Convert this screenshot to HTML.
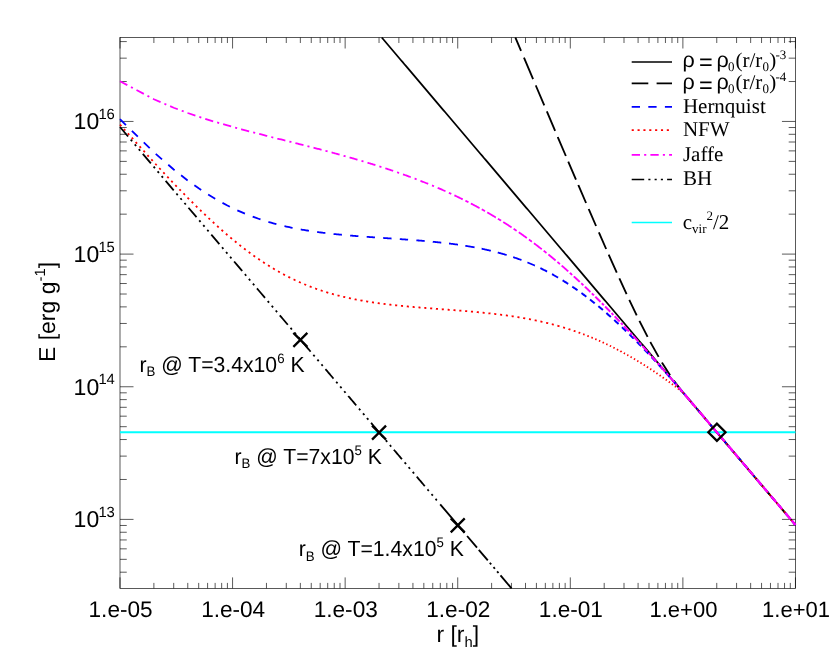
<!DOCTYPE html>
<html><head><meta charset="utf-8"><title>E vs r</title>
<style>html,body{margin:0;padding:0;background:#fff}svg{display:block;will-change:transform;transform:translateZ(0)}text{text-rendering:geometricPrecision}</style></head>
<body>
<svg width="830" height="665" viewBox="0 0 830 665">
<rect width="830" height="665" fill="#fff"/>
<g stroke="#000" stroke-width="0.65" fill="none">
<rect x="120.0" y="37.5" width="675.45" height="550.9"/>
<path d="M120.00,588.4v-11.0M120.00,37.5v11.0M153.89,588.4v-5.5M153.89,37.5v5.5M173.71,588.4v-5.5M173.71,37.5v5.5M187.78,588.4v-5.5M187.78,37.5v5.5M198.69,588.4v-5.5M198.69,37.5v5.5M207.60,588.4v-5.5M207.60,37.5v5.5M215.14,588.4v-5.5M215.14,37.5v5.5M221.67,588.4v-5.5M221.67,37.5v5.5M227.42,588.4v-5.5M227.42,37.5v5.5M232.57,588.4v-11.0M232.57,37.5v11.0M266.46,588.4v-5.5M266.46,37.5v5.5M286.29,588.4v-5.5M286.29,37.5v5.5M300.35,588.4v-5.5M300.35,37.5v5.5M311.26,588.4v-5.5M311.26,37.5v5.5M320.18,588.4v-5.5M320.18,37.5v5.5M327.71,588.4v-5.5M327.71,37.5v5.5M334.24,588.4v-5.5M334.24,37.5v5.5M340.00,588.4v-5.5M340.00,37.5v5.5M345.15,588.4v-11.0M345.15,37.5v11.0M379.04,588.4v-5.5M379.04,37.5v5.5M398.86,588.4v-5.5M398.86,37.5v5.5M412.93,588.4v-5.5M412.93,37.5v5.5M423.84,588.4v-5.5M423.84,37.5v5.5M432.75,588.4v-5.5M432.75,37.5v5.5M440.29,588.4v-5.5M440.29,37.5v5.5M446.82,588.4v-5.5M446.82,37.5v5.5M452.57,588.4v-5.5M452.57,37.5v5.5M457.73,588.4v-11.0M457.73,37.5v11.0M491.61,588.4v-5.5M491.61,37.5v5.5M511.44,588.4v-5.5M511.44,37.5v5.5M525.50,588.4v-5.5M525.50,37.5v5.5M536.41,588.4v-5.5M536.41,37.5v5.5M545.33,588.4v-5.5M545.33,37.5v5.5M552.86,588.4v-5.5M552.86,37.5v5.5M559.39,588.4v-5.5M559.39,37.5v5.5M565.15,588.4v-5.5M565.15,37.5v5.5M570.30,588.4v-11.0M570.30,37.5v11.0M604.19,588.4v-5.5M604.19,37.5v5.5M624.01,588.4v-5.5M624.01,37.5v5.5M638.08,588.4v-5.5M638.08,37.5v5.5M648.99,588.4v-5.5M648.99,37.5v5.5M657.90,588.4v-5.5M657.90,37.5v5.5M665.44,588.4v-5.5M665.44,37.5v5.5M671.97,588.4v-5.5M671.97,37.5v5.5M677.72,588.4v-5.5M677.72,37.5v5.5M682.88,588.4v-11.0M682.88,37.5v11.0M716.76,588.4v-5.5M716.76,37.5v5.5M736.59,588.4v-5.5M736.59,37.5v5.5M750.65,588.4v-5.5M750.65,37.5v5.5M761.56,588.4v-5.5M761.56,37.5v5.5M770.48,588.4v-5.5M770.48,37.5v5.5M778.01,588.4v-5.5M778.01,37.5v5.5M784.54,588.4v-5.5M784.54,37.5v5.5M790.30,588.4v-5.5M790.30,37.5v5.5M795.45,588.4v-11.0M795.45,37.5v11.0M120.0,572.19h6.75M795.45,572.19h-6.75M120.0,559.33h6.75M795.45,559.33h-6.75M120.0,548.83h6.75M795.45,548.83h-6.75M120.0,539.95h6.75M795.45,539.95h-6.75M120.0,532.26h6.75M795.45,532.26h-6.75M120.0,525.47h6.75M795.45,525.47h-6.75M120.0,519.40h13.5M795.45,519.40h-13.5M120.0,479.47h6.75M795.45,479.47h-6.75M120.0,456.11h6.75M795.45,456.11h-6.75M120.0,439.54h6.75M795.45,439.54h-6.75M120.0,426.68h6.75M795.45,426.68h-6.75M120.0,416.18h6.75M795.45,416.18h-6.75M120.0,407.30h6.75M795.45,407.30h-6.75M120.0,399.61h6.75M795.45,399.61h-6.75M120.0,392.82h6.75M795.45,392.82h-6.75M120.0,386.75h13.5M795.45,386.75h-13.5M120.0,346.82h6.75M795.45,346.82h-6.75M120.0,323.46h6.75M795.45,323.46h-6.75M120.0,306.89h6.75M795.45,306.89h-6.75M120.0,294.03h6.75M795.45,294.03h-6.75M120.0,283.53h6.75M795.45,283.53h-6.75M120.0,274.65h6.75M795.45,274.65h-6.75M120.0,266.96h6.75M795.45,266.96h-6.75M120.0,260.17h6.75M795.45,260.17h-6.75M120.0,254.10h13.5M795.45,254.10h-13.5M120.0,214.17h6.75M795.45,214.17h-6.75M120.0,190.81h6.75M795.45,190.81h-6.75M120.0,174.24h6.75M795.45,174.24h-6.75M120.0,161.38h6.75M795.45,161.38h-6.75M120.0,150.88h6.75M795.45,150.88h-6.75M120.0,142.00h6.75M795.45,142.00h-6.75M120.0,134.31h6.75M795.45,134.31h-6.75M120.0,127.52h6.75M795.45,127.52h-6.75M120.0,121.45h13.5M795.45,121.45h-13.5M120.0,81.52h6.75M795.45,81.52h-6.75M120.0,58.16h6.75M795.45,58.16h-6.75M120.0,41.59h6.75M795.45,41.59h-6.75"/>
</g>
<g fill="none" stroke-width="1.75" stroke-linejoin="round">
<path d="M120.0,432.25H795.45" stroke="#00ffff" stroke-width="1.9"/>
<path d="M381.75,37.50L382.39,38.25L384.09,40.25L385.78,42.24L387.47,44.24L389.16,46.23L390.86,48.23L392.55,50.22L394.24,52.22L395.94,54.21L397.63,56.21L399.32,58.20L401.01,60.20L402.71,62.19L404.40,64.19L406.09,66.18L407.79,68.17L409.48,70.17L411.17,72.16L412.86,74.16L414.56,76.15L416.25,78.15L417.94,80.14L419.64,82.14L421.33,84.13L423.02,86.13L424.71,88.12L426.41,90.12L428.10,92.11L429.79,94.11L431.49,96.10L433.18,98.10L434.87,100.09L436.56,102.09L438.26,104.08L439.95,106.07L441.64,108.07L443.34,110.06L445.03,112.06L446.72,114.05L448.41,116.05L450.11,118.04L451.80,120.04L453.49,122.03L455.19,124.03L456.88,126.02L458.57,128.02L460.26,130.01L461.96,132.01L463.65,134.00L465.34,136.00L467.04,137.99L468.73,139.99L470.42,141.98L472.11,143.97L473.81,145.97L475.50,147.96L477.19,149.96L478.89,151.95L480.58,153.95L482.27,155.94L483.96,157.94L485.66,159.93L487.35,161.93L489.04,163.92L490.74,165.92L492.43,167.91L494.12,169.91L495.81,171.90L497.51,173.90L499.20,175.89L500.89,177.89L502.59,179.88L504.28,181.87L505.97,183.87L507.66,185.86L509.36,187.86L511.05,189.85L512.74,191.85L514.44,193.84L516.13,195.84L517.82,197.83L519.51,199.83L521.21,201.82L522.90,203.82L524.59,205.81L526.29,207.81L527.98,209.80L529.67,211.80L531.36,213.79L533.06,215.79L534.75,217.78L536.44,219.77L538.14,221.77L539.83,223.76L541.52,225.76L543.21,227.75L544.91,229.75L546.60,231.74L548.29,233.74L549.99,235.73L551.68,237.73L553.37,239.72L555.06,241.72L556.76,243.71L558.45,245.71L560.14,247.70L561.84,249.70L563.53,251.69L565.22,253.69L566.91,255.68L568.61,257.67L570.30,259.67L571.99,261.66L573.69,263.66L575.38,265.65L577.07,267.65L578.76,269.64L580.46,271.64L582.15,273.63L583.84,275.63L585.54,277.62L587.23,279.62L588.92,281.61L590.61,283.61L592.31,285.60L594.00,287.60L595.69,289.59L597.39,291.59L599.08,293.58L600.77,295.57L602.46,297.57L604.16,299.56L605.85,301.56L607.54,303.55L609.24,305.55L610.93,307.54L612.62,309.54L614.31,311.53L616.01,313.53L617.70,315.52L619.39,317.52L621.09,319.51L622.78,321.51L624.47,323.50L626.16,325.50L627.86,327.49L629.55,329.49L631.24,331.48L632.94,333.47L634.63,335.47L636.32,337.46L638.01,339.46L639.71,341.45L641.40,343.45L643.09,345.44L644.79,347.44L646.48,349.43L648.17,351.43L649.86,353.42L651.56,355.42L653.25,357.41L654.94,359.41L656.64,361.40L658.33,363.40L660.02,365.39L661.71,367.39L663.41,369.38L665.10,371.37L666.79,373.37L668.49,375.36L670.18,377.36L671.87,379.35L673.56,381.35L675.26,383.34L676.95,385.34L678.64,387.33L680.34,389.33L682.03,391.32L683.72,393.32L685.41,395.31L687.11,397.31L688.80,399.30L690.49,401.30L692.19,403.29L693.88,405.29L695.57,407.28L697.26,409.27L698.96,411.27L700.65,413.26L702.34,415.26L704.04,417.25L705.73,419.25L707.42,421.24L709.11,423.24L710.81,425.23L712.50,427.23L714.19,429.22L715.89,431.22L717.58,433.21L719.27,435.21L720.96,437.20L722.66,439.20L724.35,441.19L726.04,443.19L727.74,445.18L729.43,447.17L731.12,449.17L732.81,451.16L734.51,453.16L736.20,455.15L737.89,457.15L739.59,459.14L741.28,461.14L742.97,463.13L744.66,465.13L746.36,467.12L748.05,469.12L749.74,471.11L751.44,473.11L753.13,475.10L754.82,477.10L756.51,479.09L758.21,481.09L759.90,483.08L761.59,485.07L763.29,487.07L764.98,489.06L766.67,491.06L768.36,493.05L770.06,495.05L771.75,497.04L773.44,499.04L775.14,501.03L776.83,503.03L778.52,505.02L780.21,507.02L781.91,509.01L783.60,511.01L785.29,513.00L786.99,515.00L788.68,516.99L790.37,518.99L792.06,520.98L793.76,522.97L795.45,524.97" stroke="#000"/>
<path d="M515.40,37.50L515.63,38.05L521.05,50.80M523.94,57.60L524.19,58.20L533.08,79.10M535.75,85.40L535.90,85.75L544.27,105.40M546.82,111.40L547.17,112.22L555.13,130.90M557.74,137.00L557.98,137.58L565.86,156.00M568.25,161.60L568.35,161.82L575.97,179.60M578.30,185.00L578.71,185.97L586.06,203.00M588.66,209.00L589.08,209.97L596.05,226.00M598.85,232.40L598.99,232.73L606.15,249.00M608.68,254.70L608.90,255.19L616.76,272.70M619.30,278.30L619.72,279.21L626.58,294.10M629.30,299.90L629.63,300.59L636.69,315.30M639.40,320.80L639.54,321.09L647.60,336.90M650.30,342.00L650.36,342.10L658.61,356.90M661.93,362.50L662.07,362.74L670.09,375.30M673.68,380.47L673.79,380.62L681.98,391.25M685.43,395.33L685.50,395.42L693.73,405.11M697.18,409.17L697.22,409.22L705.48,418.95M708.93,423.02L708.93,423.03L717.23,432.80M720.68,436.86L721.10,437.36L728.98,446.64M732.43,450.71L732.82,451.17L740.73,460.49M744.18,464.55L744.53,464.97L752.48,474.33M755.93,478.40L756.25,478.78L764.23,488.18M767.68,492.24L767.96,492.58L775.98,502.02M779.43,506.09L779.68,506.39L787.73,515.87M791.18,519.93L791.39,520.19L795.45,524.97" stroke="#000" stroke-width="1.85"/>
<path d="M120.00,119.22L125.94,125.02M131.88,130.81L137.82,136.61M143.76,142.41L149.70,148.20M155.74,153.89L162.01,159.34M168.27,164.78L173.71,169.51L174.57,170.18M181.10,175.31L187.63,180.43M194.38,185.26L198.69,188.34L201.20,189.99M208.15,194.53L215.14,198.79L215.24,198.84M222.47,202.91L227.42,205.53L229.84,206.73M237.33,210.31L241.49,212.16L244.94,213.61M252.67,216.64L255.55,217.70L258.52,218.73L260.50,219.40M268.42,221.89L268.85,222.02L271.12,222.68L273.30,223.28L275.38,223.85L276.41,224.12M284.47,226.11L284.63,226.14L286.29,226.52L287.89,226.88L289.44,227.21L290.95,227.53L292.41,227.83L292.58,227.86M300.73,229.41L301.56,229.56L302.74,229.77L303.89,229.96L305.01,230.15L306.11,230.33L307.18,230.51L308.24,230.67L308.92,230.78M317.13,231.98L317.67,232.05L318.52,232.17L319.35,232.28L320.18,232.38L320.98,232.49L321.78,232.59L322.56,232.69L323.33,232.79L324.09,232.88L324.84,232.97L325.37,233.03M333.61,233.96L333.63,233.97L334.24,234.03L334.85,234.09L335.45,234.16L336.04,234.22L336.63,234.28L337.20,234.34L337.78,234.39L338.34,234.45L338.90,234.51L339.45,234.56L340.00,234.61L340.54,234.66L341.07,234.72L341.60,234.77L341.87,234.79M350.14,235.53L350.26,235.54L350.86,235.59L351.46,235.64L352.06,235.69L352.66,235.74L353.26,235.79L353.86,235.84L354.46,235.89L355.06,235.94L355.66,235.99L356.26,236.04L356.86,236.08L357.46,236.13L358.06,236.18L358.41,236.21M366.69,236.83L366.77,236.83L367.37,236.88L367.97,236.92L368.57,236.96L369.17,237.01L369.77,237.05L370.38,237.09L370.98,237.14L371.58,237.18L372.18,237.22L372.78,237.26L373.38,237.30L373.98,237.35L374.58,237.39L374.97,237.41M383.25,237.98L383.29,237.98L383.89,238.02L384.49,238.06L385.09,238.10L385.69,238.14L386.29,238.18L386.89,238.22L387.49,238.27L388.09,238.31L388.69,238.35L389.29,238.39L389.89,238.43L390.50,238.47L391.10,238.51L391.53,238.54M399.81,239.10L399.95,239.11L400.56,239.16L401.16,239.20L401.76,239.24L402.36,239.28L402.96,239.33L403.56,239.37L404.16,239.41L404.76,239.45L405.36,239.50L405.96,239.54L406.56,239.58L407.16,239.63L407.76,239.67L408.09,239.70M416.36,240.32L416.47,240.33L417.07,240.38L417.67,240.43L418.27,240.48L418.87,240.52L419.47,240.57L420.07,240.62L420.68,240.67L421.28,240.72L421.88,240.77L422.48,240.82L423.08,240.87L423.68,240.92L424.28,240.98L424.64,241.01M432.81,241.75L432.84,241.76L433.44,241.81L434.04,241.87L434.64,241.93L435.24,241.99L435.84,242.05L436.44,242.11L437.04,242.17L437.64,242.23L438.24,242.29L438.84,242.36L439.44,242.42L440.04,242.48L440.65,242.55L441.25,242.61L441.26,242.61M449.02,243.51L449.05,243.51L449.80,243.60L450.56,243.70L451.31,243.79L452.06,243.89L452.81,243.98L453.56,244.08L454.31,244.18L455.06,244.28L455.81,244.38L456.56,244.48L457.31,244.59L458.01,244.68M465.30,245.77L465.42,245.79L466.17,245.91L466.92,246.03L467.67,246.15L468.42,246.28L469.17,246.40L469.92,246.53L470.68,246.66L471.43,246.79L472.18,246.92L472.93,247.05L473.68,247.19L474.43,247.32L474.57,247.35M481.63,248.72L481.64,248.72L482.39,248.88L483.14,249.04L483.89,249.20L484.64,249.36L485.39,249.52L486.14,249.69L486.89,249.85L487.64,250.02L488.39,250.19L489.14,250.37L489.89,250.54L490.65,250.72L490.81,250.76M497.75,252.50L497.85,252.53L498.45,252.69L499.05,252.86L499.65,253.02L500.26,253.18L500.86,253.35L501.46,253.52L502.06,253.69L502.66,253.86L503.26,254.03L503.86,254.21L504.46,254.38L505.06,254.56L505.66,254.74L506.26,254.92L506.61,255.03M513.18,257.12L513.32,257.17L513.92,257.37L514.52,257.58L515.12,257.78L515.72,257.99L516.32,258.20L516.92,258.41L517.52,258.62L518.12,258.84L518.72,259.06L519.32,259.27L519.92,259.50L520.53,259.72L521.13,259.94L521.42,260.05M527.44,262.41L527.58,262.47L528.18,262.72L528.78,262.97L529.38,263.22L529.98,263.47L530.59,263.73L531.19,263.98L531.79,264.24L532.39,264.50L532.99,264.77L533.59,265.03L534.19,265.30L534.79,265.57L534.91,265.62" stroke="#0000ff" stroke-width="1.8"/>
<path d="M540.35,268.15L540.50,268.23L540.95,268.44L541.40,268.66L541.85,268.88L542.30,269.10L542.75,269.33L543.20,269.55L543.65,269.78L544.10,270.00L544.55,270.23L545.00,270.46L545.45,270.69L545.90,270.92L546.35,271.15L546.80,271.39L547.08,271.53M551.99,274.17L552.06,274.20L552.51,274.45L552.96,274.70L553.41,274.95L553.86,275.21L554.31,275.46L554.76,275.72L555.21,275.97L555.66,276.23L556.11,276.49L556.56,276.75L557.01,277.01L557.46,277.28L557.91,277.54L558.10,277.65" stroke="#0000ff" stroke-width="1.9"/>
<path d="M562.57,280.34L562.72,280.43L563.17,280.71L563.62,280.99L564.07,281.27L564.52,281.56L564.97,281.84L565.42,282.12L565.87,282.41L566.32,282.70L566.77,282.99L567.22,283.28L567.67,283.57L568.12,283.86L568.18,283.90M572.31,286.64L572.33,286.65L572.63,286.85L572.93,287.05L573.23,287.26L573.53,287.46L573.83,287.67L574.13,287.88L574.43,288.08L574.73,288.29L575.03,288.50L575.33,288.70L575.63,288.91L575.93,289.12L576.23,289.33L576.53,289.54L576.83,289.75L577.13,289.97L577.43,290.18L577.54,290.25M581.41,293.04L581.49,293.09L581.79,293.31L582.09,293.53L582.39,293.75L582.69,293.97L582.99,294.20L583.29,294.42L583.59,294.64L583.89,294.87L584.19,295.09L584.49,295.31L584.79,295.54L585.09,295.76L585.39,295.99L585.69,296.22L585.99,296.44L586.29,296.67L586.34,296.71M590.03,299.55L590.04,299.56L590.35,299.80L590.65,300.03L590.95,300.27L591.25,300.51L591.55,300.74L591.85,300.98L592.15,301.22L592.45,301.46L592.75,301.69L593.05,301.93L593.35,302.17L593.65,302.41L593.95,302.65L594.25,302.90L594.55,303.14L594.75,303.30M598.31,306.21L598.45,306.33L598.75,306.58L599.05,306.83L599.35,307.08L599.65,307.33L599.95,307.58L600.25,307.83L600.56,308.08L600.86,308.33L601.16,308.59L601.46,308.84L601.76,309.09L602.06,309.35L602.36,309.60L602.66,309.86L602.88,310.05M606.35,313.03L606.41,313.09L606.71,313.35L607.01,313.61L607.31,313.87L607.61,314.13L607.91,314.40L608.21,314.66L608.51,314.93L608.81,315.19L609.11,315.46L609.41,315.72L609.71,315.99L610.01,316.25L610.31,316.52L610.62,316.79L610.83,316.98M614.22,320.03L614.22,320.03L614.52,320.31L614.82,320.58L615.12,320.86L615.42,321.13L615.72,321.41L616.02,321.68L616.32,321.96L616.62,322.23L616.92,322.51L617.22,322.79L617.52,323.06L617.82,323.34L618.12,323.62L618.42,323.90L618.60,324.06M621.93,327.18L622.03,327.28L622.33,327.56L622.63,327.85L622.93,328.13L623.23,328.42L623.53,328.71L623.83,328.99L624.13,329.28L624.43,329.57L624.73,329.85L625.03,330.14L625.33,330.43L625.63,330.72L625.93,331.01L626.23,331.30M629.50,334.47L629.53,334.51L629.83,334.81L630.13,335.10L630.44,335.40L630.74,335.69L631.04,335.99L631.34,336.28L631.64,336.58L631.94,336.88L632.24,337.18L632.54,337.47L632.84,337.77L633.14,338.07L633.44,338.37L633.73,338.66M636.94,341.89L637.04,341.99L637.34,342.29L637.64,342.60L637.94,342.90L638.24,343.20L638.54,343.51L638.84,343.82L639.14,344.12L639.44,344.43L639.74,344.74L640.04,345.04L640.34,345.35L640.65,345.66L640.95,345.97L641.11,346.13M644.28,349.41L644.40,349.54L644.70,349.85L645.00,350.16L645.30,350.48L645.60,350.79L645.90,351.10L646.20,351.42L646.50,351.73L646.80,352.05L647.10,352.36L647.40,352.68L647.70,352.99L648.00,353.31L648.30,353.63L648.39,353.72M651.51,357.04L651.61,357.13L651.91,357.46L652.21,357.78L652.51,358.10L652.81,358.42L653.11,358.74L653.41,359.06L653.71,359.39L654.01,359.71L654.31,360.03L654.61,360.36L654.91,360.68L655.21,361.01L655.51,361.33L655.57,361.40M658.66,364.75L658.66,364.76L658.96,365.09L659.26,365.42L659.56,365.75L659.86,366.08L660.16,366.41L660.47,366.74L660.77,367.07L661.07,367.40L661.37,367.73L661.67,368.06L661.97,368.39L662.27,368.72L662.57,369.06L662.66,369.16M665.72,372.56L665.72,372.56L666.02,372.90L666.32,373.24L666.62,373.57L666.92,373.91L667.22,374.25L667.52,374.59L667.82,374.92L668.12,375.26L668.42,375.60L668.72,375.94L669.02,376.28L669.32,376.62L669.62,376.96L669.68,377.02M672.69,380.45L672.78,380.54L673.08,380.89L673.38,381.23L673.68,381.57L673.98,381.92L674.28,382.26L674.58,382.61L674.88,382.95L675.18,383.30L675.48,383.65L675.78,383.99L676.08,384.34L676.38,384.68L676.61,384.95M679.59,388.42L679.68,388.52L679.83,388.70L679.98,388.87L680.13,389.05L680.28,389.22L680.44,389.40L680.59,389.57L680.74,389.75L680.89,389.92L681.04,390.10L681.19,390.28L681.34,390.45L681.49,390.63L681.64,390.81L681.79,390.98L681.94,391.16L682.09,391.33L682.24,391.51L682.39,391.69L682.54,391.86L682.69,392.04L682.84,392.22" stroke="#0000ff" stroke-width="2.0"/>
<path d="M682.99,392.39L683.14,392.57L683.29,392.75L683.44,392.93L683.59,393.10L683.74,393.28L683.89,393.46L684.04,393.63L684.19,393.81L684.34,393.99L684.49,394.16L684.64,394.34L684.79,394.52L684.94,394.69L685.09,394.87L685.24,395.05L685.39,395.23L685.54,395.40L685.69,395.58L685.84,395.76L685.99,395.93L686.14,396.11L686.29,396.29L686.40,396.42M689.81,400.44L689.89,400.53L690.04,400.71L690.19,400.89L690.34,401.06L690.50,401.24L690.65,401.42L690.80,401.59L690.95,401.77L691.10,401.95L691.25,402.13L691.40,402.30L691.55,402.48L691.70,402.66L691.85,402.83L692.00,403.01L692.15,403.19L692.30,403.36L692.45,403.54L692.60,403.72L692.75,403.90L692.90,404.07L693.05,404.25L693.20,404.43L693.23,404.46M696.64,408.48L696.65,408.50L696.80,408.67L696.95,408.85L697.10,409.03L697.25,409.20L697.40,409.38L697.55,409.56L697.70,409.73L697.85,409.91L698.00,410.09L698.15,410.26L698.30,410.44L698.45,410.62L698.60,410.80L698.75,410.97L698.90,411.15L699.05,411.33L699.20,411.50L699.35,411.68L699.50,411.86L699.65,412.03L699.80,412.21L699.95,412.39L700.06,412.51M703.47,416.53L703.56,416.63L703.71,416.81L703.86,416.99L704.01,417.16L704.16,417.34L704.31,417.52L704.46,417.70L704.61,417.87L704.76,418.05L704.91,418.23L705.06,418.40L705.21,418.58L705.36,418.76L705.51,418.93L705.66,419.11L705.81,419.29L705.96,419.46L706.11,419.64L706.26,419.82L706.41,420.00L706.56,420.17L706.71,420.35L706.86,420.53L706.88,420.55M710.30,424.57L710.31,424.60L710.47,424.77L710.62,424.95L710.77,425.13L710.92,425.30L711.07,425.48L711.22,425.66L711.37,425.83L711.52,426.01L711.67,426.19L711.82,426.36L711.97,426.54L712.12,426.72L712.27,426.90L712.42,427.07L712.57,427.25L712.72,427.43L712.87,427.60L713.02,427.78L713.17,427.96L713.32,428.13L713.47,428.31L713.62,428.49L713.71,428.60M717.12,432.62L717.22,432.73L717.37,432.91L717.52,433.09L717.67,433.26L717.82,433.44L717.97,433.62L718.12,433.80L718.27,433.97L718.42,434.15L718.57,434.33L718.72,434.50L718.87,434.68L719.02,434.86L719.17,435.03L719.32,435.21L719.47,435.39L719.62,435.56L719.77,435.74L719.92,435.92L720.07,436.10L720.22,436.27L720.37,436.45L720.53,436.63L720.54,436.64M723.95,440.66L723.98,440.70L724.13,440.87L724.28,441.05L724.43,441.23L724.58,441.40L724.73,441.58L724.88,441.76L725.03,441.93L725.18,442.11L725.33,442.29L725.48,442.46L725.63,442.64L725.78,442.82L725.93,443.00L726.08,443.17L726.23,443.35L726.38,443.53L726.53,443.70L726.68,443.88L726.83,444.06L726.98,444.23L727.13,444.41L727.28,444.59L727.36,444.68M730.78,448.71L730.89,448.83L731.04,449.01L731.19,449.19L731.34,449.36L731.49,449.54L731.64,449.72L731.79,449.90L731.94,450.07L732.09,450.25L732.24,450.43L732.39,450.60L732.54,450.78L732.69,450.96L732.84,451.13L732.99,451.31L733.14,451.49L733.29,451.66L733.44,451.84L733.59,452.02L733.74,452.20L733.89,452.37L734.04,452.55L734.19,452.73L734.19,452.73M737.60,456.75L737.64,456.80L737.79,456.97L737.94,457.15L738.09,457.33L738.24,457.50L738.39,457.68L738.54,457.86L738.69,458.03L738.84,458.21L738.99,458.39L739.14,458.57L739.29,458.74L739.44,458.92L739.59,459.10L739.74,459.27L739.89,459.45L740.04,459.63L740.19,459.80L740.34,459.98L740.50,460.16L740.65,460.33L740.80,460.51L740.95,460.69L741.02,460.77M744.43,464.80L744.55,464.93L744.70,465.11L744.85,465.29L745.00,465.47L745.15,465.64L745.30,465.82L745.45,466.00L745.60,466.17L745.75,466.35L745.90,466.53L746.05,466.70L746.20,466.88L746.35,467.06L746.50,467.23L746.65,467.41L746.80,467.59L746.95,467.77L747.10,467.94L747.25,468.12L747.40,468.30L747.55,468.47L747.70,468.65L747.85,468.82M751.26,472.84L751.31,472.90L751.46,473.07L751.61,473.25L751.76,473.43L751.91,473.60L752.06,473.78L752.21,473.96L752.36,474.13L752.51,474.31L752.66,474.49L752.81,474.67L752.96,474.84L753.11,475.02L753.26,475.20L753.41,475.37L753.56,475.55L753.71,475.73L753.86,475.90L754.01,476.08L754.16,476.26L754.31,476.43L754.46,476.61L754.61,476.79L754.67,476.86M758.09,480.89L758.21,481.03L758.36,481.21L758.51,481.39L758.66,481.57L758.81,481.74L758.96,481.92L759.11,482.10L759.26,482.27L759.41,482.45L759.56,482.63L759.71,482.80L759.86,482.98L760.01,483.16L760.16,483.33L760.31,483.51L760.47,483.69L760.62,483.87L760.77,484.04L760.92,484.22L761.07,484.40L761.22,484.57L761.37,484.75L761.50,484.91M764.91,488.93L764.97,489.00L765.12,489.17L765.27,489.35L765.42,489.53L765.57,489.70L765.72,489.88L765.87,490.06L766.02,490.23L766.17,490.41L766.32,490.59L766.47,490.77L766.62,490.94L766.77,491.12L766.92,491.30L767.07,491.47L767.22,491.65L767.37,491.83L767.52,492.00L767.67,492.18L767.82,492.36L767.97,492.53L768.12,492.71L768.27,492.89L768.33,492.95M771.74,496.97L771.88,497.13L772.03,497.31L772.18,497.49L772.33,497.67L772.48,497.84L772.63,498.02L772.78,498.20L772.93,498.37L773.08,498.55L773.23,498.73L773.38,498.90L773.53,499.08L773.68,499.26L773.83,499.43L773.98,499.61L774.13,499.79L774.28,499.97L774.43,500.14L774.58,500.32L774.73,500.50L774.88,500.67L775.03,500.85L775.15,501.00M778.57,505.02L778.63,505.10L778.78,505.27L778.93,505.45L779.08,505.63L779.23,505.80L779.38,505.98L779.53,506.16L779.68,506.33L779.83,506.51L779.98,506.69L780.13,506.87L780.28,507.04L780.43,507.22L780.59,507.40L780.74,507.57L780.89,507.75L781.04,507.93L781.19,508.10L781.34,508.28L781.49,508.46L781.64,508.63L781.79,508.81L781.94,508.99L781.98,509.04M785.39,513.06L785.54,513.24L785.69,513.41L785.84,513.59L785.99,513.77L786.14,513.94L786.29,514.12L786.44,514.30L786.59,514.47L786.74,514.65L786.89,514.83L787.04,515.00L787.19,515.18L787.34,515.36L787.49,515.54L787.64,515.71L787.79,515.89L787.94,516.07L788.09,516.24L788.24,516.42L788.39,516.60L788.54,516.77L788.69,516.95L788.81,517.09M792.22,521.11L792.30,521.20L792.45,521.37L792.60,521.55L792.75,521.73L792.90,521.90L793.05,522.08L793.20,522.26L793.35,522.44L793.50,522.61L793.65,522.79L793.80,522.97L793.95,523.14L794.10,523.32L794.25,523.50L794.40,523.67L794.55,523.85L794.70,524.03L794.85,524.20L795.00,524.38L795.15,524.56L795.30,524.74L795.45,524.91" stroke="#0000ff" stroke-width="2.0"/>
<path d="M120.00,124.63L121.39,126.17M123.92,128.98L125.30,130.52M127.83,133.33L129.22,134.87M131.75,137.68L133.13,139.22M135.66,142.03L137.05,143.57M139.58,146.38L140.96,147.92M143.49,150.72L144.88,152.27M147.41,155.07L148.80,156.61M151.32,159.42L152.71,160.96M155.27,163.74L156.69,165.26M159.27,168.01L160.69,169.53M163.27,172.28L164.69,173.80M167.27,176.55L168.69,178.07M171.27,180.82L172.69,182.34M175.30,185.06L176.75,186.55M179.39,189.26L180.83,190.74M183.47,193.45L184.91,194.94M187.55,197.64L187.78,197.88L189.02,199.11M191.70,201.76L193.17,203.22M195.86,205.88L197.33,207.34M200.04,209.98L201.54,211.41M204.27,214.02L205.77,215.46M208.51,218.05L210.03,219.46M212.80,222.02L214.33,223.43M217.13,225.96L218.68,227.35M221.49,229.87L221.67,230.02L223.06,231.23M225.91,233.70L227.42,235.02L227.48,235.06M230.37,237.49L231.96,238.83M234.87,241.23L236.48,242.54M239.43,244.90L241.06,246.19M244.04,248.50L245.40,249.55L245.69,249.76M248.71,252.03L249.03,252.27L250.38,253.26M253.44,255.47L255.13,256.68M258.23,258.84L258.52,259.04L259.94,260.00M263.08,262.10L263.96,262.68L264.82,263.24M268.00,265.27L268.85,265.81L269.76,266.37M272.98,268.34L273.30,268.53L274.77,269.40M278.03,271.29L279.29,272.01L279.84,272.31M283.15,274.13L284.63,274.92L284.98,275.11M288.33,276.85L289.44,277.41L290.19,277.78M293.58,279.44L293.82,279.55L295.20,280.20L295.46,280.32M298.89,281.89L299.11,281.99L300.35,282.54L300.79,282.73M304.26,284.22L305.01,284.53L306.11,284.98L306.18,285.01M309.69,286.41L310.27,286.63L311.26,287.01L311.63,287.15M315.17,288.46L315.92,288.73L316.80,289.04L317.12,289.16M320.70,290.38L320.98,290.47L321.78,290.74L322.56,290.99L322.67,291.03M326.27,292.16L326.29,292.17L327.01,292.39L327.71,292.60L328.25,292.77M331.88,293.82L332.37,293.96L333.00,294.14L333.63,294.31L333.88,294.38M337.53,295.35L337.78,295.42L338.34,295.56L338.90,295.70L339.45,295.84L339.54,295.87M343.21,296.76L343.66,296.87L344.16,296.99L344.66,297.10L345.15,297.22L345.23,297.24M348.91,298.06L349.05,298.09L349.20,298.12L349.35,298.16L349.50,298.19L349.65,298.22L349.80,298.25L349.95,298.29L350.10,298.32L350.26,298.35L350.41,298.38L350.56,298.41L350.71,298.45L350.86,298.48L350.94,298.50M354.64,299.25L354.76,299.28L354.91,299.31L355.06,299.33L355.21,299.36L355.36,299.39L355.51,299.42L355.66,299.45L355.81,299.48L355.96,299.51L356.11,299.54L356.26,299.57L356.41,299.60L356.56,299.63L356.68,299.65M360.39,300.34L360.47,300.36L360.62,300.38L360.77,300.41L360.92,300.44L361.07,300.47L361.22,300.49L361.37,300.52L361.52,300.55L361.67,300.57L361.82,300.60L361.97,300.63L362.12,300.65L362.27,300.68L362.42,300.70L362.43,300.71M366.15,301.34L366.17,301.34L366.32,301.37L366.47,301.39L366.62,301.42L366.77,301.44L366.92,301.47L367.07,301.49L367.22,301.52L367.37,301.54L367.52,301.57L367.67,301.59L367.82,301.61L367.97,301.64L368.12,301.66L368.20,301.68M371.93,302.26L372.03,302.27L372.18,302.29L372.33,302.32L372.48,302.34L372.63,302.36L372.78,302.38L372.93,302.41L373.08,302.43L373.23,302.45L373.38,302.47L373.53,302.49L373.68,302.52L373.83,302.54L373.98,302.56L373.99,302.56M377.73,303.09L377.73,303.09L377.88,303.12L378.03,303.14L378.18,303.16L378.33,303.18L378.48,303.20L378.63,303.22L378.78,303.24L378.93,303.26L379.08,303.28L379.23,303.30L379.38,303.32L379.53,303.34L379.68,303.36L379.78,303.37M383.53,303.86L383.59,303.87L383.74,303.89L383.89,303.91L384.04,303.93L384.19,303.95L384.34,303.96L384.49,303.98L384.64,304.00L384.79,304.02L384.94,304.04L385.09,304.06L385.24,304.08L385.39,304.09L385.54,304.11L385.59,304.12M389.33,304.57L389.44,304.58L389.59,304.60L389.74,304.61L389.89,304.63L390.04,304.65L390.20,304.67L390.35,304.68L390.50,304.70L390.65,304.72L390.80,304.74L390.95,304.75L391.10,304.77L391.25,304.79L391.40,304.80L391.40,304.80M395.15,305.22L395.30,305.23L395.45,305.25L395.60,305.27L395.75,305.28L395.90,305.30L396.05,305.31L396.20,305.33L396.35,305.35L396.50,305.36L396.65,305.38L396.80,305.39L396.95,305.41L397.10,305.43L397.21,305.44M400.97,305.82L401.01,305.82L401.16,305.84L401.31,305.85L401.46,305.87L401.61,305.88L401.76,305.90L401.91,305.91L402.06,305.93L402.21,305.94L402.36,305.96L402.51,305.97L402.66,305.99L402.81,306.00L402.96,306.02L403.04,306.02M406.79,306.38L406.86,306.39L407.01,306.40L407.16,306.42L407.31,306.43L407.46,306.45L407.61,306.46L407.76,306.47L407.91,306.49L408.06,306.50L408.21,306.51L408.36,306.53L408.51,306.54L408.66,306.56L408.81,306.57L408.86,306.57M412.62,306.91L412.72,306.92L412.87,306.93L413.02,306.95L413.17,306.96L413.32,306.97L413.47,306.98L413.62,307.00L413.77,307.01L413.92,307.02L414.07,307.04L414.22,307.05L414.37,307.06L414.52,307.08L414.67,307.09L414.69,307.09M418.45,307.41L418.57,307.42L418.72,307.43L418.87,307.44L419.02,307.46L419.17,307.47L419.32,307.48L419.47,307.49L419.62,307.51L419.77,307.52L419.92,307.53L420.07,307.54L420.23,307.56L420.38,307.57L420.52,307.58M424.28,307.89L424.43,307.90L424.58,307.91L424.73,307.92L424.88,307.93L425.03,307.95L425.18,307.96L425.33,307.97L425.48,307.98L425.63,307.99L425.78,308.00L425.93,308.02L426.08,308.03L426.23,308.04L426.35,308.05M430.12,308.35L430.13,308.35L430.29,308.36L430.44,308.37L430.59,308.38L430.74,308.39L430.89,308.41L431.04,308.42L431.19,308.43L431.34,308.44L431.49,308.45L431.64,308.46L431.79,308.47L431.94,308.49L432.09,308.50L432.19,308.51M435.95,308.79L435.99,308.80L436.14,308.81L436.29,308.82L436.44,308.83L436.59,308.84L436.74,308.85L436.89,308.87L437.04,308.88L437.19,308.89L437.34,308.90L437.49,308.91L437.64,308.92L437.79,308.93L437.94,308.95L438.02,308.95M441.79,309.24L441.85,309.24L442.00,309.25L442.15,309.27L442.30,309.28L442.45,309.29L442.60,309.30L442.75,309.31L442.90,309.32L443.05,309.33L443.20,309.35L443.35,309.36L443.50,309.37L443.65,309.38L443.80,309.39L443.86,309.40M447.62,309.68L447.70,309.69L447.85,309.70L448.00,309.71L448.15,309.72L448.30,309.73L448.45,309.75L448.60,309.76L448.75,309.77L448.90,309.78L449.05,309.79L449.20,309.80L449.35,309.82L449.50,309.83L449.65,309.84L449.69,309.84M453.46,310.13L453.56,310.14L453.71,310.15L453.86,310.16L454.01,310.18L454.16,310.19L454.31,310.20L454.46,310.21L454.61,310.22L454.76,310.23L454.91,310.25L455.06,310.26L455.21,310.27L455.36,310.28L455.51,310.29L455.52,310.29M459.29,310.59L459.41,310.60L459.56,310.62L459.71,310.63L459.86,310.64L460.01,310.65L460.16,310.66L460.32,310.68L460.47,310.69L460.62,310.70L460.77,310.71L460.92,310.72L461.07,310.74L461.22,310.75L461.36,310.76M465.12,311.07L465.27,311.08L465.42,311.10L465.57,311.11L465.72,311.12L465.87,311.13L466.02,311.15L466.17,311.16L466.32,311.17L466.47,311.19L466.62,311.20L466.77,311.21L466.92,311.22L467.07,311.24L467.19,311.25M470.95,311.57L470.98,311.57L471.13,311.59L471.28,311.60L471.43,311.61L471.58,311.63L471.73,311.64L471.88,311.65L472.03,311.67L472.18,311.68L472.33,311.69L472.48,311.71L472.63,311.72L472.78,311.73L472.93,311.75L473.02,311.76M476.78,312.10L476.83,312.11L476.98,312.12L477.13,312.13L477.28,312.15L477.43,312.16L477.58,312.18L477.73,312.19L477.88,312.20L478.03,312.22L478.18,312.23L478.33,312.25L478.48,312.26L478.63,312.28L478.78,312.29L478.84,312.30M482.60,312.66L482.69,312.67L482.84,312.69L482.99,312.70L483.14,312.72L483.29,312.73L483.44,312.75L483.59,312.76L483.74,312.78L483.89,312.79L484.04,312.81L484.19,312.82L484.34,312.84L484.49,312.85L484.64,312.87L484.67,312.87M488.42,313.26L488.54,313.28L488.69,313.29L488.84,313.31L488.99,313.33L489.14,313.34L489.29,313.36L489.44,313.37L489.59,313.39L489.74,313.41L489.89,313.42L490.04,313.44L490.19,313.46L490.35,313.47L490.49,313.49M494.24,313.91L494.25,313.91L494.40,313.93L494.55,313.95L494.70,313.96L494.85,313.98L495.00,314.00L495.15,314.02L495.30,314.03L495.45,314.05L495.60,314.07L495.75,314.09L495.90,314.11L496.05,314.12L496.20,314.14L496.30,314.15M500.05,314.61L500.10,314.62L500.26,314.64L500.41,314.65L500.56,314.67L500.71,314.69L500.86,314.71L501.01,314.73L501.16,314.75L501.31,314.77L501.46,314.79L501.61,314.81L501.76,314.83L501.91,314.85L502.06,314.87L502.11,314.87M505.85,315.37L505.96,315.38L506.11,315.40L506.26,315.42L506.41,315.44L506.56,315.46L506.71,315.48L506.86,315.50L507.01,315.53L507.16,315.55L507.31,315.57L507.46,315.59L507.61,315.61L507.76,315.63L507.91,315.65M511.64,316.19L511.67,316.19L511.82,316.21L511.97,316.23L512.12,316.26L512.27,316.28L512.42,316.30L512.57,316.32L512.72,316.35L512.87,316.37L513.02,316.39L513.17,316.41L513.32,316.44L513.47,316.46L513.62,316.48L513.70,316.49M517.43,317.08L517.52,317.09L517.67,317.12L517.82,317.14L517.97,317.16L518.12,317.19L518.27,317.21L518.42,317.24L518.57,317.26L518.72,317.29L518.87,317.31L519.02,317.34L519.17,317.36L519.32,317.38L519.47,317.41L519.48,317.41M523.20,318.04L523.23,318.05L523.38,318.07L523.53,318.10L523.68,318.13L523.83,318.15L523.98,318.18L524.13,318.20L524.28,318.23L524.43,318.26L524.58,318.28L524.73,318.31L524.88,318.34L525.03,318.36L525.18,318.39L525.24,318.40M528.96,319.09L529.08,319.11L529.23,319.14L529.38,319.17L529.53,319.20L529.68,319.23L529.83,319.26L529.98,319.28L530.13,319.31L530.29,319.34L530.44,319.37L530.59,319.40L530.74,319.43L530.89,319.46L530.99,319.48M534.70,320.22L534.79,320.24L534.94,320.27L535.09,320.30L535.24,320.33L535.39,320.36L535.54,320.40L535.69,320.43L535.84,320.46L535.99,320.49L536.14,320.52L536.29,320.55L536.44,320.58L536.59,320.62L536.73,320.64M540.42,321.45L540.50,321.46L540.65,321.50L540.80,321.53L540.95,321.56L541.10,321.60L541.25,321.63L541.40,321.66L541.55,321.70L541.70,321.73L541.85,321.77L542.00,321.80L542.15,321.83L542.30,321.87L542.44,321.90M546.12,322.77L546.20,322.79L546.35,322.82L546.50,322.86L546.65,322.89L546.80,322.93L546.95,322.97L547.10,323.00L547.25,323.04L547.40,323.08L547.55,323.11L547.70,323.15L547.85,323.19L548.00,323.22L548.14,323.26M551.80,324.19L551.91,324.21L552.06,324.25L552.21,324.29L552.36,324.33L552.51,324.37L552.66,324.41L552.81,324.45L552.96,324.49L553.11,324.53L553.26,324.57L553.41,324.61L553.56,324.65L553.71,324.69L553.80,324.71M557.45,325.71L557.46,325.71L557.61,325.76L557.76,325.80L557.91,325.84L558.06,325.88L558.21,325.92L558.36,325.97L558.51,326.01L558.66,326.05L558.81,326.10L558.96,326.14L559.11,326.18L559.26,326.22L559.41,326.27L559.44,326.27M563.06,327.34L563.17,327.37L563.32,327.41L563.47,327.46L563.62,327.50L563.77,327.55L563.92,327.60L564.07,327.64L564.22,327.69L564.37,327.73L564.52,327.78L564.67,327.82L564.82,327.87L564.97,327.92L565.03,327.93M568.53,329.03L568.57,329.05L568.72,329.10L568.87,329.14L569.02,329.19L569.17,329.24L569.32,329.29L569.47,329.34L569.62,329.39L569.77,329.44L569.92,329.49L570.07,329.53L570.22,329.58L570.38,329.63L570.41,329.64M573.72,330.75L573.83,330.79L573.98,330.84L574.13,330.89L574.28,330.94L574.43,330.99L574.58,331.05L574.73,331.10L574.88,331.15L575.03,331.20L575.18,331.25L575.33,331.31L575.48,331.36M578.57,332.45L578.63,332.48L578.78,332.53L578.93,332.58L579.08,332.64L579.23,332.69L579.38,332.75L579.53,332.80L579.68,332.86L579.83,332.91L579.98,332.97L580.13,333.02L580.21,333.05M583.10,334.13L583.14,334.14L583.29,334.20L583.44,334.25L583.59,334.31L583.74,334.37L583.89,334.43L584.04,334.48L584.19,334.54L584.34,334.60L584.49,334.66L584.64,334.71M587.35,335.77L587.49,335.83L587.64,335.89L587.79,335.95L587.94,336.01L588.09,336.07L588.24,336.13L588.39,336.19L588.54,336.25L588.69,336.31L588.80,336.35M591.37,337.40L591.40,337.41L591.55,337.47L591.70,337.53L591.85,337.60L592.00,337.66L592.15,337.72L592.30,337.78L592.45,337.85L592.60,337.91L592.75,337.97L592.76,337.97M595.22,339.02L595.30,339.05L595.45,339.12L595.60,339.18L595.75,339.25L595.90,339.31L596.05,339.38L596.20,339.44L596.35,339.51L596.50,339.57L596.56,339.60M598.96,340.65L599.05,340.69L599.20,340.76L599.35,340.83L599.50,340.90L599.65,340.96L599.80,341.03L599.95,341.10L600.10,341.16L600.25,341.23L600.27,341.24M602.63,342.31L602.66,342.33L602.81,342.39L602.96,342.46L603.11,342.53L603.26,342.60L603.41,342.67L603.56,342.74L603.71,342.81L603.86,342.88L603.92,342.91M606.26,344.01L606.26,344.01L606.41,344.08L606.56,344.15L606.71,344.23L606.86,344.30L607.01,344.37L607.16,344.44L607.31,344.51L607.46,344.59L607.53,344.62M609.84,345.74L609.86,345.75L610.01,345.83L610.16,345.90L610.31,345.97L610.47,346.05L610.62,346.12L610.77,346.20L610.92,346.27L611.07,346.34L611.10,346.36M613.39,347.51L613.47,347.55L613.62,347.62L613.77,347.70L613.92,347.77L614.07,347.85L614.22,347.93L614.37,348.00L614.52,348.08L614.64,348.14M616.90,349.30L616.92,349.32L617.07,349.40L617.22,349.47L617.37,349.55L617.52,349.63L617.67,349.71L617.82,349.79L617.97,349.87L618.12,349.95L618.13,349.95M620.37,351.13L620.38,351.14L620.53,351.22L620.68,351.30L620.83,351.38L620.98,351.46L621.13,351.54L621.28,351.62L621.43,351.70L621.58,351.78L621.59,351.79M623.80,352.99L623.83,353.01L623.98,353.09L624.13,353.17L624.28,353.26L624.43,353.34L624.58,353.42L624.73,353.51L624.88,353.59L625.01,353.66M627.20,354.89L627.28,354.93L627.43,355.01L627.58,355.10L627.73,355.18L627.88,355.27L628.03,355.35L628.18,355.44L628.33,355.52L628.40,355.56M630.57,356.80L630.59,356.81L630.74,356.90L630.89,356.99L631.04,357.07L631.19,357.16L631.34,357.25L631.49,357.33L631.64,357.42L631.76,357.49M633.91,358.75L634.04,358.83L634.19,358.92L634.34,359.00L634.49,359.09L634.64,359.18L634.79,359.27L634.94,359.36L635.08,359.45M637.22,360.72L637.34,360.80L637.49,360.89L637.64,360.98L637.79,361.07L637.94,361.16L638.09,361.25L638.24,361.35L638.38,361.43M640.49,362.72L640.50,362.72L640.65,362.82L640.80,362.91L640.95,363.00L641.10,363.09L641.25,363.19L641.40,363.28L641.55,363.37L641.65,363.44M643.74,364.75L643.80,364.78L643.95,364.88L644.10,364.97L644.25,365.06L644.40,365.16L644.55,365.25L644.70,365.35L644.85,365.44L644.89,365.47" stroke="#ff0000" stroke-width="1.8"/>
<path d="M646.97,366.79L647.10,366.88L647.25,366.98L647.40,367.07L647.55,367.17L647.70,367.27L647.85,367.36L648.00,367.46L648.10,367.53M650.16,368.87L650.25,368.93L650.41,369.02L650.56,369.12L650.71,369.22L650.86,369.32L651.01,369.42L651.16,369.52L651.29,369.61M653.33,370.96L653.41,371.01L653.56,371.11L653.71,371.21L653.86,371.31L654.01,371.41L654.16,371.51L654.31,371.61L654.45,371.71M656.48,373.07L656.56,373.13L656.71,373.23L656.86,373.33L657.01,373.44L657.16,373.54L657.31,373.64L657.46,373.74L657.59,373.83M659.60,375.21L659.71,375.29L659.86,375.39L660.01,375.50L660.16,375.60L660.31,375.70L660.47,375.81L660.62,375.91L660.71,375.98M662.71,377.37L662.72,377.38L662.87,377.48L663.02,377.59L663.17,377.69L663.32,377.80L663.47,377.91L663.62,378.01L663.77,378.12L663.80,378.14M665.79,379.55L665.87,379.61L666.02,379.72L666.17,379.82L666.32,379.93L666.47,380.04L666.62,380.15L666.77,380.25L666.87,380.32M668.84,381.75L668.87,381.77L669.02,381.88L669.17,381.99L669.32,382.09L669.47,382.20L669.62,382.31L669.77,382.42L669.92,382.53M671.88,383.96L672.03,384.07L672.18,384.18L672.33,384.29L672.48,384.40L672.63,384.51L672.78,384.62L672.93,384.73L672.95,384.75M674.90,386.20L675.03,386.29L675.18,386.41L675.33,386.52L675.48,386.63L675.63,386.74L675.78,386.86L675.93,386.97L675.96,386.99M677.90,388.45L678.03,388.55L678.18,388.67L678.33,388.78L678.48,388.89L678.63,389.01L678.78,389.12L678.93,389.24L678.96,389.25M680.88,390.72L680.89,390.73L681.04,390.84L681.19,390.96L681.34,391.07L681.49,391.19L681.64,391.31L681.79,391.42L681.93,391.53" stroke="#ff0000" stroke-width="1.9"/>
<path d="M682.99,392.39L683.14,392.57L683.29,392.75L683.44,392.93L683.59,393.10L683.74,393.28L683.84,393.40M685.39,395.23L685.54,395.40L685.69,395.58L685.84,395.76L685.99,395.93L686.14,396.11L686.25,396.24M687.80,398.07L687.94,398.23L688.09,398.41L688.24,398.59L688.39,398.76L688.54,398.94L688.65,399.07M690.21,400.90L690.34,401.06L690.50,401.24L690.65,401.42L690.80,401.59L690.95,401.77L691.06,401.91M692.61,403.74L692.75,403.90L692.90,404.07L693.05,404.25L693.20,404.43L693.35,404.60L693.47,404.74M695.02,406.57L695.15,406.73L695.30,406.90L695.45,407.08L695.60,407.26L695.75,407.43L695.87,407.58M697.43,409.41L697.55,409.56L697.70,409.73L697.85,409.91L698.00,410.09L698.15,410.26L698.28,410.41M699.83,412.24L699.95,412.39L700.10,412.56L700.25,412.74L700.41,412.92L700.56,413.10L700.69,413.25M702.24,415.08L702.36,415.22L702.51,415.40L702.66,415.57L702.81,415.75L702.96,415.93L703.09,416.09M704.65,417.92L704.76,418.05L704.91,418.23L705.06,418.40L705.21,418.58L705.36,418.76L705.50,418.92M707.05,420.75L707.16,420.88L707.31,421.06L707.46,421.23L707.61,421.41L707.76,421.59L707.91,421.76M709.46,423.59L709.56,423.71L709.71,423.89L709.86,424.06L710.01,424.24L710.16,424.42L710.31,424.59M711.87,426.42L711.97,426.54L712.12,426.72L712.27,426.90L712.42,427.07L712.57,427.25L712.72,427.43L712.72,427.43M714.27,429.26L714.37,429.37L714.52,429.55L714.67,429.73L714.82,429.90L714.97,430.08L715.12,430.26L715.13,430.26M716.68,432.09L716.77,432.20L716.92,432.38L717.07,432.56L717.22,432.73L717.37,432.91L717.52,433.09L717.53,433.10M719.09,434.93L719.17,435.03L719.32,435.21L719.47,435.39L719.62,435.56L719.77,435.74L719.92,435.92L719.94,435.94M721.49,437.77L721.58,437.86L721.73,438.04L721.88,438.22L722.03,438.40L722.18,438.57L722.33,438.75L722.35,438.77M723.90,440.60L723.98,440.70L724.13,440.87L724.28,441.05L724.43,441.23L724.58,441.40L724.73,441.58L724.75,441.61M726.31,443.44L726.38,443.53L726.53,443.70L726.68,443.88L726.83,444.06L726.98,444.23L727.13,444.41L727.16,444.44M728.71,446.27L728.78,446.36L728.93,446.53L729.08,446.71L729.23,446.89L729.38,447.06L729.53,447.24L729.57,447.28M731.12,449.11L731.19,449.19L731.34,449.36L731.49,449.54L731.64,449.72L731.79,449.90L731.94,450.07L731.97,450.11M733.53,451.94L733.59,452.02L733.74,452.20L733.89,452.37L734.04,452.55L734.19,452.73L734.34,452.90L734.38,452.95M735.93,454.78L735.99,454.85L736.14,455.03L736.29,455.20L736.44,455.38L736.59,455.56L736.74,455.73L736.79,455.79M738.34,457.62L738.39,457.68L738.54,457.86L738.69,458.03L738.84,458.21L738.99,458.39L739.14,458.57L739.19,458.62M740.75,460.45L740.80,460.51L740.95,460.69L741.10,460.87L741.25,461.04L741.40,461.22L741.55,461.40L741.60,461.46M743.15,463.29L743.20,463.34L743.35,463.52L743.50,463.70L743.65,463.87L743.80,464.05L743.95,464.23L744.01,464.29M745.56,466.12L745.60,466.17L745.75,466.35L745.90,466.53L746.05,466.70L746.20,466.88L746.35,467.06L746.41,467.13M747.96,468.96L748.00,469.00L748.15,469.18L748.30,469.36L748.45,469.53L748.60,469.71L748.75,469.89L748.82,469.96M750.37,471.80L750.40,471.83L750.56,472.01L750.71,472.19L750.86,472.37L751.01,472.54L751.16,472.72L751.22,472.80M752.78,474.63L752.81,474.67L752.96,474.84L753.11,475.02L753.26,475.20L753.41,475.37L753.56,475.55L753.63,475.64M755.18,477.47L755.21,477.50L755.36,477.67L755.51,477.85L755.66,478.03L755.81,478.20L755.96,478.38L756.04,478.47M757.59,480.30L757.61,480.33L757.76,480.50L757.91,480.68L758.06,480.86L758.21,481.03L758.36,481.21L758.44,481.31M760.00,483.14L760.01,483.16L760.16,483.33L760.31,483.51L760.47,483.69L760.62,483.87L760.77,484.04L760.85,484.14M762.40,485.97L762.42,485.99L762.57,486.17L762.72,486.34L762.87,486.52L763.02,486.70L763.17,486.87L763.26,486.98M764.81,488.81L764.82,488.82L764.97,489.00L765.12,489.17L765.27,489.35L765.42,489.53L765.57,489.70L765.66,489.81M767.22,491.65L767.22,491.65L767.37,491.83L767.52,492.00L767.67,492.18L767.82,492.36L767.97,492.53L768.07,492.65M769.62,494.48L769.62,494.48L769.77,494.66L769.92,494.83L770.07,495.01L770.22,495.19L770.37,495.37L770.48,495.49M772.03,497.32L772.18,497.49L772.33,497.67L772.48,497.84L772.63,498.02L772.78,498.20L772.88,498.32M774.44,500.15L774.58,500.32L774.73,500.50L774.88,500.67L775.03,500.85L775.18,501.03L775.29,501.16M776.84,502.99L776.98,503.15L777.13,503.33L777.28,503.50L777.43,503.68L777.58,503.86L777.70,503.99M779.25,505.82L779.38,505.98L779.53,506.16L779.68,506.33L779.83,506.51L779.98,506.69L780.10,506.83M781.66,508.66L781.79,508.81L781.94,508.99L782.09,509.17L782.24,509.34L782.39,509.52L782.51,509.66M784.06,511.50L784.19,511.64L784.34,511.82L784.49,512.00L784.64,512.17L784.79,512.35L784.92,512.50M786.47,514.33L786.59,514.47L786.74,514.65L786.89,514.83L787.04,515.00L787.19,515.18L787.32,515.34M788.88,517.17L788.99,517.30L789.14,517.48L789.29,517.66L789.44,517.84L789.59,518.01L789.73,518.17M791.28,520.00L791.40,520.14L791.55,520.31L791.70,520.49L791.85,520.67L792.00,520.84L792.14,521.01M793.69,522.84L793.80,522.97L793.95,523.14L794.10,523.32L794.25,523.50L794.40,523.67L794.54,523.84" stroke="#ff0000" stroke-width="1.9"/>
<path d="M120.00,81.26L127.33,85.15M131.00,87.10L132.83,88.07M136.49,90.02L143.83,93.91M147.49,95.85L149.32,96.83M152.99,98.77L153.89,99.25L160.59,102.11M164.40,103.74L166.31,104.56M170.13,106.19L173.71,107.72L177.83,109.26M181.72,110.72L183.66,111.45M187.55,112.90L187.78,112.99L195.40,115.60M199.33,116.93L201.30,117.56M205.26,118.83L207.60,119.58L213.18,121.29M217.16,122.48L219.15,123.07M223.13,124.23L227.42,125.46L231.12,126.49M235.12,127.59L237.12,128.14M241.13,129.22L241.49,129.31L245.40,130.35L249.03,131.31L249.15,131.34M253.17,132.39L255.18,132.91M259.20,133.94L261.31,134.48L263.96,135.15L266.46,135.79L267.24,135.99M271.27,137.00L273.28,137.51M277.30,138.52L277.37,138.54L279.29,139.02L281.14,139.48L282.91,139.93L284.63,140.36L285.35,140.54M289.38,141.55L289.44,141.57L290.95,141.95L291.39,142.06M295.41,143.07L296.54,143.36L297.84,143.69L299.11,144.01L300.35,144.32L301.56,144.63L302.74,144.93L303.46,145.11M307.48,146.14L308.24,146.33L309.27,146.60L309.49,146.65M313.51,147.69L314.11,147.84L315.02,148.08L315.92,148.31L316.80,148.54L317.67,148.77L318.52,148.99L319.35,149.21L320.18,149.42L320.98,149.63L321.54,149.78M325.55,150.84L325.57,150.84L326.29,151.04L327.01,151.23L327.56,151.37M331.57,152.45L331.73,152.49L332.37,152.66L333.00,152.83L333.63,153.00L334.24,153.17L334.85,153.33L335.45,153.50L336.04,153.66L336.63,153.82L337.20,153.98L337.78,154.13L338.34,154.29L338.90,154.44L339.45,154.59L339.58,154.63M343.58,155.73L343.66,155.76L344.16,155.90L344.66,156.04L345.15,156.17L345.30,156.22L345.45,156.26L345.57,156.29M349.57,157.42L349.65,157.45L350.26,157.62L350.86,157.79L351.46,157.96L352.06,158.13L352.66,158.30L353.26,158.48L353.86,158.65L354.46,158.82L355.06,159.00L355.66,159.17L356.26,159.35L356.86,159.52L357.46,159.70L357.54,159.72M361.52,160.89L361.67,160.93L361.82,160.98L361.97,161.02L362.12,161.07L362.27,161.11L362.42,161.16L362.57,161.20L362.72,161.25L362.87,161.29L363.02,161.34L363.17,161.38L363.32,161.43L363.47,161.47L363.51,161.48M367.49,162.68L367.52,162.69L368.12,162.87L368.72,163.06L369.32,163.24L369.92,163.42L370.53,163.61L371.13,163.79L371.73,163.98L372.33,164.16L372.93,164.35L373.53,164.54L374.13,164.72L374.73,164.91L375.33,165.10L375.42,165.13M379.38,166.38L379.38,166.38L379.53,166.43L379.68,166.48L379.83,166.52L379.98,166.57L380.13,166.62L380.29,166.67L380.44,166.72L380.59,166.76L380.74,166.81L380.89,166.86L381.04,166.91L381.19,166.96L381.34,167.01L381.35,167.01M385.30,168.29L385.39,168.32L385.99,168.52L386.59,168.72L387.19,168.91L387.79,169.11L388.39,169.31L388.99,169.51L389.59,169.71L390.20,169.91L390.80,170.11L391.40,170.31L392.00,170.52L392.60,170.72L393.17,170.91M397.10,172.26L397.10,172.26L397.25,172.31L397.40,172.36L397.55,172.42L397.70,172.47L397.85,172.52L398.00,172.57L398.15,172.62L398.30,172.68L398.45,172.73L398.60,172.78L398.75,172.83L398.90,172.89L399.05,172.94L399.06,172.94M402.97,174.32L403.11,174.37L403.71,174.58L404.31,174.79L404.91,175.01L405.51,175.23L406.11,175.44L406.71,175.66L407.31,175.88L407.91,176.10L408.51,176.32L409.11,176.54L409.71,176.76L410.32,176.98L410.78,177.15M414.66,178.60L414.67,178.60L414.82,178.66L414.97,178.71L415.12,178.77L415.27,178.83L415.42,178.89L415.57,178.94L415.72,179.00L415.87,179.06L416.02,179.11L416.17,179.17L416.32,179.23L416.47,179.28L416.60,179.34M420.48,180.83L420.53,180.84L421.13,181.08L421.73,181.31L422.33,181.55L422.93,181.79L423.53,182.02L424.13,182.26L424.73,182.50L425.33,182.74L425.93,182.98L426.53,183.22L427.13,183.46L427.73,183.70L428.19,183.89M432.02,185.46L432.09,185.48L432.24,185.55L432.39,185.61L432.54,185.67L432.69,185.73L432.84,185.80L432.99,185.86L433.14,185.92L433.29,185.98L433.44,186.05L433.59,186.11L433.74,186.17L433.89,186.23L433.96,186.26M437.67,187.83L437.79,187.89L438.39,188.14L438.99,188.40L439.59,188.66L440.19,188.92L440.80,189.18L441.40,189.44L442.00,189.70L442.60,189.97L443.20,190.23L443.80,190.50L444.40,190.76L445.00,191.03L445.48,191.24M448.90,192.79L448.90,192.79L449.05,192.86L449.20,192.93L449.35,192.99L449.50,193.06L449.65,193.13L449.80,193.20L449.95,193.27L450.10,193.34L450.26,193.41L450.41,193.48L450.56,193.55L450.71,193.61L450.86,193.68L451.01,193.75L451.16,193.82L451.30,193.89M454.37,195.32L454.46,195.36L455.06,195.64L455.66,195.93L456.26,196.21L456.86,196.50L457.46,196.79L458.06,197.08L458.66,197.36L459.26,197.65L459.86,197.95L460.47,198.24L461.07,198.53L461.67,198.83L462.27,199.12L462.72,199.34M465.40,200.68L465.42,200.69L465.57,200.77L465.72,200.84L465.87,200.92L466.02,200.99L466.17,201.07L466.32,201.14L466.47,201.22L466.62,201.29L466.77,201.37L466.92,201.45L467.07,201.52L467.22,201.60L467.37,201.68L467.52,201.75L467.67,201.83L467.82,201.90L467.97,201.98L468.12,202.06L468.27,202.13L468.42,202.21L468.44,202.22M470.85,203.46L470.98,203.53L471.58,203.84L472.18,204.15L472.78,204.47L473.38,204.78L473.98,205.10L474.58,205.42L475.18,205.74L475.78,206.06L476.38,206.38L476.98,206.70L477.58,207.03L478.18,207.35L478.78,207.68L479.38,208.00L479.55,208.09M481.80,209.33L481.94,209.41L482.09,209.49L482.24,209.58L482.39,209.66L482.54,209.74L482.69,209.83L482.84,209.91L482.99,209.99L483.14,210.08L483.29,210.16L483.44,210.25L483.59,210.33L483.74,210.41L483.89,210.50L484.04,210.58L484.19,210.67L484.34,210.75L484.49,210.84L484.64,210.92L484.79,211.00L484.94,211.09L485.01,211.13M487.22,212.39L487.34,212.46L487.94,212.80L488.54,213.15L489.14,213.49L489.74,213.84L490.35,214.19L490.95,214.54L491.55,214.90L492.15,215.25L492.75,215.61L493.35,215.96L493.95,216.32L494.55,216.68L495.15,217.04L495.75,217.40L495.76,217.40M497.94,218.73L498.00,218.77L498.15,218.86L498.30,218.95L498.45,219.04L498.60,219.14L498.75,219.23L498.90,219.32L499.05,219.41L499.20,219.50L499.35,219.60L499.50,219.69L499.65,219.78L499.80,219.87L499.95,219.97L500.10,220.06L500.26,220.15L500.41,220.25L500.56,220.34L500.71,220.43L500.86,220.53L501.01,220.62L501.06,220.66M503.23,222.01L503.26,222.03L503.86,222.41L504.46,222.79L505.06,223.17L505.66,223.56L506.26,223.94L506.86,224.33L507.46,224.72L508.06,225.10L508.66,225.50L509.26,225.89L509.86,226.28L510.47,226.68L511.07,227.07L511.54,227.38M513.66,228.80L513.77,228.87L513.92,228.97L514.07,229.07L514.22,229.17L514.37,229.27L514.52,229.38L514.67,229.48L514.82,229.58L514.97,229.68L515.12,229.78L515.27,229.88L515.42,229.98L515.57,230.09L515.72,230.19L515.87,230.29L516.02,230.39L516.17,230.49L516.32,230.60L516.47,230.70L516.62,230.80L516.71,230.86M518.81,232.30L518.87,232.35L519.47,232.76L520.07,233.18L520.68,233.60L521.28,234.02L521.88,234.44L522.48,234.86L523.08,235.29L523.68,235.72L524.28,236.14L524.88,236.57L525.48,237.00L526.08,237.43L526.68,237.87L526.89,238.02M528.95,239.52L529.08,239.61L529.23,239.72L529.38,239.83L529.53,239.94L529.68,240.05L529.83,240.16L529.98,240.28L530.13,240.39L530.29,240.50L530.44,240.61L530.59,240.72L530.74,240.83L530.89,240.94L531.04,241.05L531.19,241.16L531.34,241.27L531.49,241.38L531.64,241.50L531.79,241.61L531.91,241.70M533.95,243.22L534.04,243.29L534.64,243.74L535.24,244.20L535.84,244.65L536.44,245.11L537.04,245.57L537.64,246.03L538.24,246.49L538.84,246.95L539.44,247.42L540.04,247.88L540.65,248.35L541.25,248.82L541.73,249.20M543.69,250.74L543.80,250.83L543.95,250.94L544.10,251.06L544.25,251.18L544.40,251.30L544.55,251.42L544.70,251.54L544.85,251.66L545.00,251.78L545.15,251.90L545.30,252.02L545.45,252.14L545.60,252.26L545.75,252.38L545.90,252.50L546.05,252.62L546.20,252.74L546.35,252.86L546.48,252.96M548.39,254.50L548.45,254.55L549.05,255.04L549.65,255.53L550.25,256.02L550.86,256.51L551.46,257.01L552.06,257.50L552.66,258.00L553.26,258.50L553.86,258.99L554.46,259.50L555.06,260.00L555.58,260.44M557.38,261.95L557.46,262.02L557.61,262.15L557.76,262.27L557.91,262.40L558.06,262.53L558.21,262.66L558.36,262.78L558.51,262.91L558.66,263.04L558.81,263.17L558.96,263.29L559.11,263.42L559.26,263.55L559.41,263.68L559.56,263.81L559.71,263.94L559.86,264.06L559.93,264.12M561.67,265.62L561.82,265.74L562.27,266.13L562.72,266.52L563.17,266.91L563.62,267.30L564.07,267.70L564.52,268.09L564.97,268.48L565.42,268.88L565.87,269.27L566.32,269.67L566.77,270.07L567.22,270.47L567.67,270.86L568.12,271.26L568.23,271.36" stroke="#ff00ff" stroke-width="1.8"/>
<path d="M569.87,272.82L569.92,272.87L570.07,273.00L570.22,273.14L570.38,273.27L570.53,273.41L570.68,273.54L570.83,273.68L570.98,273.81L571.13,273.95L571.28,274.08L571.43,274.22L571.58,274.35L571.73,274.49L571.88,274.62L572.03,274.76L572.18,274.89L572.19,274.90M573.78,276.34L573.83,276.39L574.28,276.80L574.73,277.21L575.18,277.62L575.63,278.03L576.08,278.44L576.53,278.86L576.98,279.27L577.43,279.69L577.88,280.10L578.33,280.52L578.78,280.94L579.23,281.35L579.68,281.77L579.78,281.87M581.29,283.27L581.34,283.31L581.49,283.45L581.64,283.59L581.79,283.73L581.94,283.88L582.09,284.02L582.24,284.16L582.39,284.30L582.54,284.44L582.69,284.58L582.84,284.72L582.99,284.86L583.14,285.00L583.29,285.15L583.43,285.28M584.90,286.67L584.94,286.71L585.39,287.13L585.84,287.56L586.29,287.99L586.74,288.42L587.19,288.85L587.64,289.28L588.09,289.71L588.54,290.15L588.99,290.58L589.44,291.01L589.89,291.45L590.35,291.88L590.48,292.01" stroke="#ff00ff" stroke-width="1.9"/>
<path d="M591.89,293.38L592.00,293.48L592.15,293.63L592.30,293.77L592.45,293.92L592.60,294.07L592.75,294.21L592.90,294.36L593.05,294.51L593.20,294.65L593.35,294.80L593.50,294.95L593.65,295.09L593.80,295.24L593.90,295.34M595.28,296.69L595.30,296.71L595.60,297.01L595.90,297.30L596.20,297.60L596.50,297.89L596.80,298.19L597.10,298.49L597.40,298.78L597.70,299.08L598.00,299.38L598.30,299.67L598.60,299.97L598.90,300.27L599.20,300.57L599.50,300.87L599.80,301.17L600.10,301.47L600.41,301.77L600.55,301.91M601.89,303.25L601.91,303.27L602.06,303.42L602.21,303.57L602.36,303.72L602.51,303.87L602.66,304.02L602.81,304.17L602.96,304.32L603.11,304.47L603.26,304.63L603.41,304.78L603.56,304.93L603.71,305.08L603.81,305.18M605.13,306.52L605.21,306.60L605.51,306.90L605.81,307.20L606.11,307.51L606.41,307.81L606.71,308.12L607.01,308.43L607.31,308.73L607.61,309.04L607.91,309.34L608.21,309.65L608.51,309.96L608.81,310.26L609.11,310.57L609.41,310.88L609.71,311.19L610.01,311.49L610.21,311.70M611.51,313.03L611.52,313.04L611.67,313.19L611.82,313.35L611.97,313.50L612.12,313.66L612.27,313.81L612.42,313.97L612.57,314.12L612.72,314.28L612.87,314.43L613.02,314.59L613.17,314.74L613.32,314.90L613.37,314.95M614.66,316.29L614.67,316.30L614.97,316.61L615.27,316.92L615.57,317.24L615.87,317.55L616.17,317.86L616.47,318.18L616.77,318.49L617.07,318.80L617.37,319.12L617.67,319.43L617.97,319.74L618.27,320.06L618.57,320.37L618.87,320.69L619.17,321.00L619.47,321.32L619.65,321.50M620.93,322.85L620.98,322.90L621.13,323.06L621.28,323.22L621.43,323.38L621.58,323.54L621.73,323.69L621.88,323.85L622.03,324.01L622.18,324.17L622.33,324.33L622.48,324.49L622.63,324.65L622.77,324.80M624.04,326.15L624.13,326.24L624.43,326.56L624.73,326.88L625.03,327.20L625.33,327.52L625.63,327.84L625.93,328.16L626.23,328.48L626.53,328.80L626.83,329.12L627.13,329.44L627.43,329.76L627.73,330.09L628.03,330.41L628.33,330.73L628.63,331.05L628.93,331.37L628.97,331.42M630.24,332.78L630.28,332.83L630.44,332.99L630.59,333.15L630.74,333.31L630.89,333.48L631.04,333.64L631.19,333.80L631.34,333.96L631.49,334.12L631.64,334.29L631.79,334.45L631.94,334.61L632.06,334.74M633.32,336.11L633.44,336.24L633.74,336.56L634.04,336.89L634.34,337.21L634.64,337.54L634.94,337.87L635.24,338.19L635.54,338.52L635.84,338.85L636.14,339.18L636.44,339.50L636.74,339.83L637.04,340.16L637.34,340.49L637.64,340.82L637.94,341.14L638.20,341.43M639.45,342.80L639.59,342.95L639.74,343.12L639.89,343.28L640.04,343.45L640.19,343.61L640.34,343.78L640.50,343.94L640.65,344.11L640.80,344.27L640.95,344.44L641.10,344.60L641.25,344.77L641.26,344.78M642.51,346.16L642.60,346.26L642.90,346.59L643.20,346.92L643.50,347.26L643.80,347.59L644.10,347.92L644.40,348.25L644.70,348.59L645.00,348.92L645.30,349.25L645.60,349.58L645.90,349.92L646.20,350.25L646.50,350.59L646.80,350.92L647.10,351.25L647.34,351.52M648.58,352.91L648.60,352.93L648.75,353.10L648.90,353.26L649.05,353.43L649.20,353.60L649.35,353.77L649.50,353.93L649.65,354.10L649.80,354.27L649.95,354.44L650.10,354.61L650.25,354.77L650.37,354.90M651.61,356.29L651.76,356.46L652.06,356.79L652.36,357.13L652.66,357.47L652.96,357.81L653.26,358.14L653.56,358.48L653.86,358.82L654.16,359.16L654.46,359.50L654.76,359.83L655.06,360.17L655.36,360.51L655.66,360.85L655.96,361.19L656.26,361.53L656.41,361.70M657.64,363.09L657.76,363.23L657.91,363.40L658.06,363.57L658.21,363.74L658.36,363.91L658.51,364.08L658.66,364.25L658.81,364.42L658.96,364.59L659.11,364.76L659.26,364.93L659.41,365.10M660.64,366.50L660.77,366.64L661.07,366.98L661.37,367.33L661.67,367.67L661.97,368.01L662.27,368.36L662.57,368.70L662.87,369.04L663.17,369.38L663.47,369.73L663.77,370.07L664.07,370.42L664.37,370.76L664.67,371.10L664.97,371.45L665.27,371.79L665.40,371.94M666.62,373.34L666.62,373.34L666.77,373.52L666.92,373.69L667.07,373.86L667.22,374.03L667.37,374.21L667.52,374.38L667.67,374.55L667.82,374.73L667.97,374.90L668.12,375.07L668.27,375.24L668.38,375.37M669.60,376.78L669.62,376.80L669.92,377.15L670.22,377.50L670.53,377.84L670.83,378.19L671.13,378.54L671.43,378.89L671.73,379.24L672.03,379.58L672.33,379.93L672.63,380.28L672.93,380.63L673.23,380.98L673.53,381.33L673.83,381.67L674.13,382.02L674.32,382.25M675.54,383.66L675.63,383.77L675.78,383.95L675.93,384.12L676.08,384.30L676.23,384.47L676.38,384.65L676.53,384.82L676.68,385.00L676.83,385.17L676.98,385.35L677.13,385.52L677.28,385.70L677.28,385.70M678.49,387.12L678.63,387.28L678.93,387.63L679.23,387.98L679.53,388.34L679.83,388.69L680.13,389.04L680.44,389.39L680.74,389.75L681.04,390.10L681.34,390.45L681.64,390.80L681.94,391.16L682.24,391.51L682.54,391.86L682.84,392.22" stroke="#ff00ff" stroke-width="2.0"/>
<path d="M684.61,394.30L684.64,394.34L685.09,394.87L685.54,395.40L685.99,395.93L686.44,396.46L686.89,396.99L687.34,397.53L687.79,398.06L688.24,398.59L688.69,399.12L689.14,399.65L689.59,400.18L690.04,400.71L690.17,400.86M691.21,402.08L691.25,402.13L691.55,402.48L691.85,402.83L692.15,403.19L692.45,403.54L692.75,403.90L693.05,404.25L693.35,404.60L693.65,404.96L693.95,405.31L694.25,405.66L694.55,406.02L694.85,406.37L695.15,406.73L695.45,407.08L695.73,407.41M698.97,411.23L699.05,411.33L699.50,411.86L699.95,412.39L700.41,412.92L700.86,413.45L701.31,413.98L701.76,414.51L702.21,415.04L702.66,415.57L703.11,416.10L703.56,416.63L704.01,417.16L704.46,417.70L704.53,417.78M705.57,419.00L705.66,419.11L705.96,419.46L706.26,419.82L706.56,420.17L706.86,420.53L707.16,420.88L707.46,421.23L707.76,421.59L708.06,421.94L708.36,422.30L708.66,422.65L708.96,423.00L709.26,423.36L709.56,423.71L709.86,424.06L710.10,424.34M713.33,428.15L713.47,428.31L713.92,428.84L714.37,429.37L714.82,429.90L715.27,430.43L715.72,430.96L716.17,431.50L716.62,432.03L717.07,432.56L717.52,433.09L717.97,433.62L718.42,434.15L718.87,434.68L718.90,434.71M719.93,435.93L720.07,436.10L720.37,436.45L720.68,436.80L720.98,437.16L721.28,437.51L721.58,437.86L721.88,438.22L722.18,438.57L722.48,438.93L722.78,439.28L723.08,439.63L723.38,439.99L723.68,440.34L723.98,440.70L724.28,441.05L724.46,441.27M727.70,445.08L727.73,445.12L728.18,445.65L728.63,446.18L729.08,446.71L729.53,447.24L729.98,447.77L730.44,448.30L730.89,448.83L731.34,449.36L731.79,449.90L732.24,450.43L732.69,450.96L733.14,451.49L733.26,451.64M734.30,452.86L734.34,452.90L734.64,453.26L734.94,453.61L735.24,453.96L735.54,454.32L735.84,454.67L736.14,455.03L736.44,455.38L736.74,455.73L737.04,456.09L737.34,456.44L737.64,456.80L737.94,457.15L738.24,457.50L738.54,457.86L738.83,458.19M742.06,462.01L742.15,462.10L742.60,462.63L743.05,463.17L743.50,463.70L743.95,464.23L744.40,464.76L744.85,465.29L745.30,465.82L745.75,466.35L746.20,466.88L746.65,467.41L747.10,467.94L747.55,468.47L747.63,468.56M748.66,469.78L748.75,469.89L749.05,470.24L749.35,470.60L749.65,470.95L749.95,471.30L750.25,471.66L750.56,472.01L750.86,472.37L751.16,472.72L751.46,473.07L751.76,473.43L752.06,473.78L752.36,474.13L752.66,474.49L752.96,474.84L753.19,475.12M756.43,478.93L756.56,479.09L757.01,479.62L757.46,480.15L757.91,480.68L758.36,481.21L758.81,481.74L759.26,482.27L759.71,482.80L760.16,483.33L760.62,483.87L761.07,484.40L761.52,484.93L761.97,485.46L761.99,485.49M763.03,486.71L763.17,486.87L763.47,487.23L763.77,487.58L764.07,487.93L764.37,488.29L764.67,488.64L764.97,489.00L765.27,489.35L765.57,489.70L765.87,490.06L766.17,490.41L766.47,490.77L766.77,491.12L767.07,491.47L767.37,491.83L767.56,492.05M770.79,495.86L770.83,495.90L771.28,496.43L771.73,496.96L772.18,497.49L772.63,498.02L773.08,498.55L773.53,499.08L773.98,499.61L774.43,500.14L774.88,500.67L775.33,501.20L775.78,501.73L776.23,502.27L776.36,502.42M777.39,503.64L777.43,503.68L777.73,504.03L778.03,504.39L778.33,504.74L778.63,505.10L778.93,505.45L779.23,505.80L779.53,506.16L779.83,506.51L780.13,506.87L780.43,507.22L780.74,507.57L781.04,507.93L781.34,508.28L781.64,508.63L781.92,508.97M785.16,512.78L785.24,512.88L785.69,513.41L786.14,513.94L786.59,514.47L787.04,515.00L787.49,515.54L787.94,516.07L788.39,516.60L788.84,517.13L789.29,517.66L789.74,518.19L790.19,518.72L790.65,519.25L790.72,519.34M791.76,520.56L791.85,520.67L792.15,521.02L792.45,521.37L792.75,521.73L793.05,522.08L793.35,522.44L793.65,522.79L793.95,523.14L794.25,523.50L794.55,523.85L794.85,524.20L795.15,524.56L795.45,524.91" stroke="#ff00ff" stroke-width="2.3"/>
<path d="M120.00,127.02L128.06,136.51M130.74,139.68L132.08,141.26M134.77,144.42L136.11,146.00M138.80,149.17L140.14,150.75M142.82,153.91L150.88,163.41M153.57,166.57L153.89,166.95L154.91,168.15M157.59,171.32L158.94,172.90M161.62,176.06L162.96,177.65M165.65,180.81L173.71,190.30M176.39,193.47L177.73,195.05M180.42,198.21L181.76,199.79M184.45,202.96L185.79,204.54M188.47,207.71L196.53,217.20M199.22,220.36L200.56,221.94M203.24,225.11L204.59,226.69M207.27,229.85L207.60,230.24L208.61,231.44M211.30,234.60L215.14,239.12L219.36,244.09M222.04,247.26L223.38,248.84M226.07,252.00L227.41,253.59M230.10,256.75L231.44,258.33M234.12,261.50L237.23,265.16L241.49,270.17L242.18,270.99M244.87,274.15L245.40,274.78L246.21,275.73M248.89,278.90L249.03,279.05L250.24,280.48M252.92,283.64L254.26,285.23M256.95,288.39L258.52,290.24L261.31,293.53L263.96,296.65L265.01,297.88M267.69,301.05L268.85,302.41L269.03,302.63M271.72,305.79L273.06,307.38M275.75,310.54L277.09,312.12M279.77,315.29L281.14,316.89L282.91,318.99L284.63,321.01L286.29,322.96L287.83,324.78M290.52,327.94L290.95,328.45L291.86,329.52M294.54,332.69L295.20,333.46L295.89,334.27M298.57,337.43L299.11,338.07L299.91,339.02M302.60,342.18L302.74,342.34L303.89,343.70L305.01,345.02L306.11,346.32L307.18,347.58L308.24,348.82L309.27,350.04L310.27,351.22L310.66,351.67M313.34,354.84L314.11,355.74L314.68,356.42M317.37,359.58L317.67,359.94L318.52,360.94L318.71,361.17M321.40,364.33L321.78,364.78L322.56,365.70L322.74,365.91M325.42,369.08L325.57,369.25L326.29,370.10L327.01,370.94L327.71,371.77L328.41,372.59L329.09,373.39L329.76,374.19L330.43,374.97L331.09,375.75L331.73,376.51L332.37,377.26L333.00,378.01L333.48,378.57M336.17,381.73L336.63,382.28L337.20,382.96L337.51,383.31M340.19,386.48L340.54,386.89L341.07,387.52L341.54,388.06M344.22,391.23L344.66,391.74L345.15,392.32L345.30,392.50L345.45,392.67L345.56,392.81M348.25,395.97L348.30,396.04L348.90,396.74L349.50,397.45L350.10,398.16L350.71,398.87L351.31,399.57L351.91,400.28L352.51,400.99L353.11,401.70L353.71,402.40L354.31,403.11L354.91,403.82L355.51,404.53L356.11,405.24L356.30,405.46M358.99,408.63L359.11,408.77L359.26,408.95L359.41,409.13L359.56,409.30L359.71,409.48L359.86,409.66L360.01,409.84L360.17,410.01L360.32,410.19L360.33,410.21M363.02,413.37L363.17,413.55L363.32,413.73L363.47,413.90L363.62,414.08L363.77,414.26L363.92,414.44L364.07,414.61L364.22,414.79L364.36,414.96M367.05,418.12L367.07,418.15L367.22,418.33L367.37,418.50L367.52,418.68L367.67,418.86L367.82,419.04L367.97,419.21L368.12,419.39L368.27,419.57L368.39,419.70M371.07,422.87L371.13,422.93L371.73,423.64L372.33,424.34L372.93,425.05L373.53,425.76L374.13,426.47L374.73,427.17L375.33,427.88L375.93,428.59L376.53,429.30L377.13,430.00L377.73,430.71L378.33,431.42L378.93,432.13L379.13,432.36M381.82,435.52L381.94,435.67L382.09,435.84L382.24,436.02L382.39,436.20L382.54,436.37L382.69,436.55L382.84,436.73L382.99,436.90L383.14,437.08L383.16,437.11M385.84,440.27L385.99,440.44L386.14,440.62L386.29,440.80L386.44,440.97L386.59,441.15L386.74,441.33L386.89,441.51L387.04,441.68L387.19,441.85M389.87,445.02L389.89,445.04L390.04,445.22L390.20,445.40L390.35,445.57L390.50,445.75L390.65,445.93L390.80,446.11L390.95,446.28L391.10,446.46L391.21,446.60M393.90,449.76L393.95,449.82L394.55,450.53L395.15,451.24L395.75,451.94L396.35,452.65L396.95,453.36L397.55,454.07L398.15,454.77L398.75,455.48L399.35,456.19L399.95,456.90L400.56,457.61L401.16,458.31L401.76,459.02L401.95,459.25M404.64,462.42L404.76,462.56L404.91,462.74L405.06,462.91L405.21,463.09L405.36,463.27L405.51,463.44L405.66,463.62L405.81,463.80L405.96,463.97L405.98,464.00M408.67,467.16L408.81,467.34L408.96,467.51L409.11,467.69L409.26,467.87L409.41,468.04L409.56,468.22L409.71,468.40L409.86,468.57L410.01,468.75M412.70,471.91L412.72,471.94L412.87,472.11L413.02,472.29L413.17,472.47L413.32,472.64L413.47,472.82L413.62,473.00L413.77,473.17L413.92,473.35L414.04,473.49M416.72,476.66L416.77,476.71L417.37,477.42L417.97,478.13L418.57,478.84L419.17,479.54L419.77,480.25L420.38,480.96L420.98,481.67L421.58,482.37L422.18,483.08L422.78,483.79L423.38,484.50L423.98,485.21L424.58,485.91L424.78,486.15M427.46,489.31L427.58,489.45L427.73,489.63L427.88,489.81L428.03,489.98L428.18,490.16L428.33,490.34L428.48,490.51L428.63,490.69L428.78,490.87L428.81,490.90M431.49,494.06L431.64,494.23L431.79,494.41L431.94,494.58L432.09,494.76L432.24,494.94L432.39,495.11L432.54,495.29L432.69,495.47L432.84,495.64M435.52,498.81L435.54,498.83L435.69,499.01L435.84,499.18L435.99,499.36L436.14,499.54L436.29,499.71L436.44,499.89L436.59,500.07L436.74,500.24L436.86,500.39" stroke="#000" stroke-width="1.8"/>
<path d="M440.20,504.32L464.50,532.95M467.10,536.02L477.00,547.68M478.80,549.80L487.80,560.41M489.80,562.76L491.20,564.41M493.50,567.12L494.90,568.77M497.10,571.37L498.50,573.02M500.50,575.37L511.56,588.40" stroke="#000" stroke-width="1.85"/>
</g>
<g fill="none" stroke="#000" stroke-width="2.3">
<path d="M293.35,332.88L307.35,346.88M293.35,346.88L307.35,332.88"/>
<path d="M372.04,425.60L386.04,439.60M372.04,439.60L386.04,425.60"/>
<path d="M450.73,518.32L464.73,532.32M450.73,532.32L464.73,518.32"/>
<path d="M708.31,432.25L716.91,423.65L725.51,432.25L716.91,440.85Z"/>
</g>
<g fill="none" stroke-width="1.7">
<path d="M631.7,62.0H672.0" stroke="#000"/>
<path d="M631.7,83.4H672.0" stroke="#000" stroke-dasharray="16.6 8.3"/>
<path d="M631.7,106.8H672.0" stroke="#0000ff" stroke-dasharray="8.3 8.3"/>
<path d="M631.7,130.1H672.0" stroke="#ff0000" stroke-dasharray="2.1 3.75"/>
<path d="M631.7,154.8H672.0" stroke="#ff00ff" stroke-dasharray="8.3 4.15 2.1 4.15"/>
<path d="M631.7,179.5H672.0" stroke="#000" stroke-dasharray="12.5 4.15 2.1 4.15 2.1 4.15 2.1 4.15"/>
<path d="M631.7,222.5H672.0" stroke="#00ffff"/>
</g>
<g font-family="Liberation Sans, sans-serif" font-size="23" fill="#000">
<text x="73.6" y="527.20">10<tspan font-size="14.8" dx="-0.8" dy="-10.3">13</tspan></text>
<text x="73.6" y="394.55">10<tspan font-size="14.8" dx="-0.8" dy="-10.3">14</tspan></text>
<text x="73.6" y="261.90">10<tspan font-size="14.8" dx="-0.8" dy="-10.3">15</tspan></text>
<text x="73.6" y="129.25">10<tspan font-size="14.8" dx="-0.8" dy="-10.3">16</tspan></text>
<text x="120.60" y="617.2" font-size="22.6" text-anchor="middle">1.e-05</text>
<text x="233.17" y="617.2" font-size="22.6" text-anchor="middle">1.e-04</text>
<text x="345.75" y="617.2" font-size="22.6" text-anchor="middle">1.e-03</text>
<text x="458.33" y="617.2" font-size="22.6" text-anchor="middle">1.e-02</text>
<text x="570.90" y="617.2" font-size="22.6" text-anchor="middle">1.e-01</text>
<text x="683.48" y="617.2" font-size="22.0" text-anchor="middle">1.e+00</text>
<text x="796.05" y="617.2" font-size="22.0" text-anchor="middle">1.e+01</text>
<text x="457.8" y="641.6" text-anchor="middle">r [r<tspan font-size="14.8" dy="5.8">h</tspan><tspan dy="-5.8">]</tspan></text>
<text transform="translate(55.3,312) rotate(-90)" text-anchor="middle">E [erg g<tspan font-size="14.8" dy="-10.3">-1</tspan><tspan dy="10.3">]</tspan></text>
</g>
<g font-family="Liberation Sans, sans-serif" font-size="21.9" fill="#000">
<text transform="translate(139.4,371.7) scale(0.9680,1)">r<tspan font-size="13.7" dy="4.6">B</tspan><tspan dy="-4.6"> @ T=3.4x10</tspan><tspan font-size="13.7" dy="-8.9">6</tspan><tspan dy="8.9"> K</tspan></text>
<text transform="translate(234.4,463.7) scale(0.9680,1)">r<tspan font-size="13.7" dy="4.6">B</tspan><tspan dy="-4.6"> @ T=7x10</tspan><tspan font-size="13.7" dy="-8.9">5</tspan><tspan dy="8.9"> K</tspan></text>
<text transform="translate(298.7,556.1) scale(0.9680,1)">r<tspan font-size="13.7" dy="4.6">B</tspan><tspan dy="-4.6"> @ T=1.4x10</tspan><tspan font-size="13.7" dy="-8.9">5</tspan><tspan dy="8.9"> K</tspan></text>
</g>
<g font-family="Liberation Serif, serif" font-size="21.0" fill="#000">
<text y="66.6"><tspan x="682.6" font-family="Liberation Sans, sans-serif" font-size="21.5">ρ</tspan><tspan x="699.0" dy="3.7" font-family="Liberation Sans, sans-serif" font-size="23.5">=</tspan><tspan x="716.4" dy="-3.7" font-family="Liberation Sans, sans-serif" font-size="21.5">ρ</tspan><tspan x="728.0" font-size="13" dy="4.2">0</tspan><tspan x="735.4" dy="-4.2">(r/r</tspan><tspan font-size="13" dy="4.2" dx="0.3">0</tspan><tspan dy="-4.2" dx="0.3">)</tspan><tspan font-size="13" dy="-8.1" dx="-0.8">-3</tspan></text>
<text y="88.8"><tspan x="682.6" font-family="Liberation Sans, sans-serif" font-size="21.5">ρ</tspan><tspan x="699.0" dy="3.7" font-family="Liberation Sans, sans-serif" font-size="23.5">=</tspan><tspan x="716.4" dy="-3.7" font-family="Liberation Sans, sans-serif" font-size="21.5">ρ</tspan><tspan x="728.0" font-size="13" dy="4.2">0</tspan><tspan x="735.4" dy="-4.2">(r/r</tspan><tspan font-size="13" dy="4.2" dx="0.3">0</tspan><tspan dy="-4.2" dx="0.3">)</tspan><tspan font-size="13" dy="-8.1" dx="-0.8">-4</tspan></text>
<text x="682.9" y="112.5">Hernquist</text>
<text x="682.9" y="136">NFW</text>
<text x="682.9" y="160.5">Jaffe</text>
<text x="682.9" y="185">BH</text>
<text x="682.7" y="229.1">c<tspan font-size="13" dy="4.2">vir</tspan><tspan font-size="13" dy="-13.7">2</tspan><tspan dy="9.5">/2</tspan></text>
</g>
</svg>
</body></html>
